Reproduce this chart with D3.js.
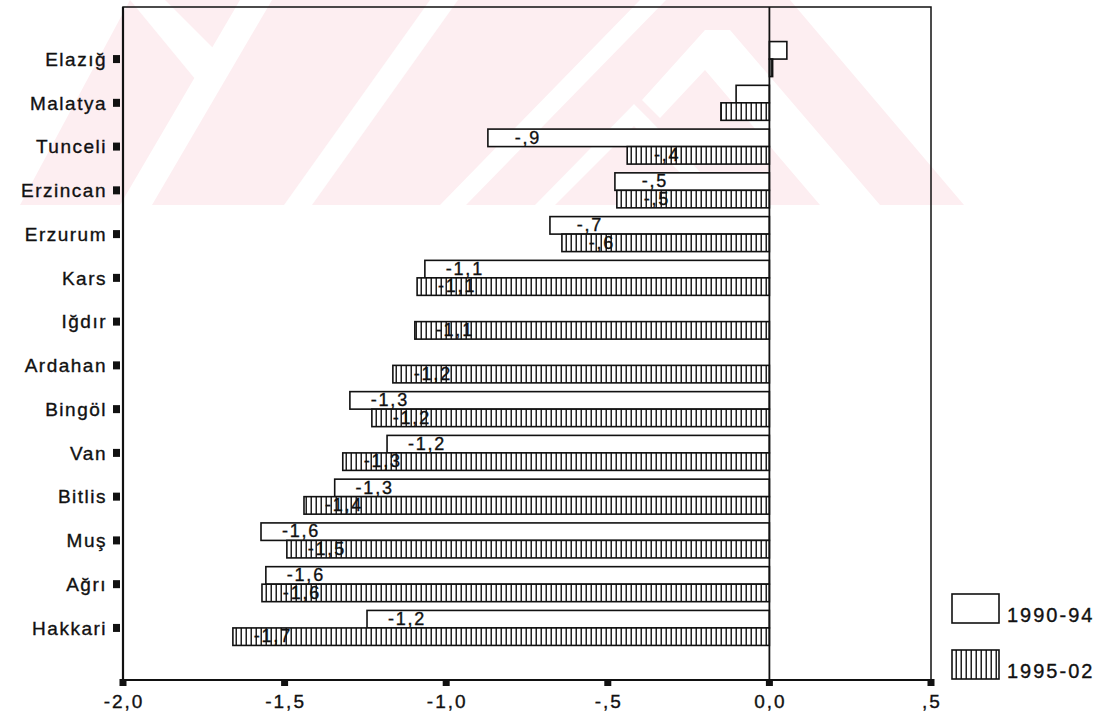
<!DOCTYPE html>
<html><head><meta charset="utf-8">
<script src="https://cdn.jsdelivr.net/npm/d3@7"></script>
<style>body{margin:0;background:#fff} text{font-family:"Liberation Sans",Arial,sans-serif;fill:#111;stroke:#111;stroke-width:0.35}</style>
</head><body><svg id="c" width="1112" height="715"></svg>
<script>
const categories = ["Elazığ","Malatya","Tunceli","Erzincan","Erzurum","Kars","Iğdır","Ardahan","Bingöl","Van","Bitlis","Muş","Ağrı","Hakkari"];
const seriesNames = ["1990-94","1995-02"];
const values9094 = [0.054,-0.103,-0.871,-0.478,-0.679,-1.066,null,null,-1.298,-1.183,-1.345,-1.573,-1.558,-1.245];
const values9502 = [0.01,-0.15,-0.44,-0.472,-0.642,-1.09,-1.097,-1.165,-1.23,-1.32,-1.44,-1.493,-1.57,-1.66];
const xTicks = [-2,-1.5,-1,-0.5,0,0.5];
const xTickLabels = ["-2,0","-1,5","-1,0","-,5","0,0",",5"];

const svg = d3.select("#c");
const defs = svg.append("defs");
const pat = defs.append("pattern").attr("id","hatch").attr("patternUnits","userSpaceOnUse")
  .attr("width",5).attr("height",10);
pat.append("rect").attr("width",5).attr("height",10).attr("fill","#fff");
pat.append("rect").attr("x",0.5).attr("width",1.5).attr("height",10).attr("fill","#222");

// faint background watermark (decoration)
const wm = svg.append("g");
const pink = "#fdeef1";
wm.append("path").attr("fill",pink).attr("d","M20,205 L130,0 L790,0 L964,205 Z");
const white = [
  "M130,0 L165,0 L225,60 L200,85 Z",
  "M240,0 L272,0 L152,205 L120,205 Z",
  "M430,0 L458,0 L312,205 L284,205 Z",
  "M640,0 L666,0 L466,205 L440,205 Z",
  "M705,30 L730,30 L880,205 L820,205 L705,70 L660,118 L642,100 Z",
  "M634,104 L648,118 L732,205 L712,205 L634,126 L555,205 L535,205 Z"
];
white.forEach(d => wm.append("path").attr("fill","#fff").attr("d",d));

const x = d3.scaleLinear().domain([-2,0.5]).range([123,931]);
const y = d3.scaleBand().domain(categories).range([7,680]).paddingInner(0).paddingOuter(0.69);
const pairH = 35;
const sub = d3.scaleBand().domain(seriesNames).range([0,pairH]);
const off = (y.bandwidth()-pairH)/2;

const fmt = v => {
  const s = Math.abs(v).toFixed(1).replace(".", ",").replace(/^0,/, ",");
  return (v < 0 ? "-" : "") + s;
};

const series = [
  {name: seriesNames[0], values: values9094, fill: "#fff"},
  {name: seriesNames[1], values: values9502, fill: "url(#hatch)"}
];

// frame
svg.append("rect").attr("x",x(-2)).attr("y",7).attr("width",x(0.5)-x(-2)).attr("height",673)
  .attr("fill","none").attr("stroke","#111").attr("stroke-width",1.5);
svg.append("line").attr("x1",x(-2)).attr("x2",x(-2)).attr("y1",7).attr("y2",681)
  .attr("stroke","#111").attr("stroke-width",2.2);
svg.append("line").attr("x1",x(-2)).attr("x2",x(0.5)).attr("y1",680).attr("y2",680)
  .attr("stroke","#111").attr("stroke-width",2);

const gBars = svg.append("g");
series.forEach(s => {
  s.values.forEach((v,i) => {
    if (v === null) return;
    const yy = y(categories[i]) + off + sub(s.name);
    gBars.append("rect")
      .attr("x", x(Math.min(0,v))).attr("width", Math.abs(x(v)-x(0)))
      .attr("y", yy).attr("height", sub.bandwidth())
      .attr("fill", s.fill).attr("stroke","#111").attr("stroke-width",1.6);
  });
});
series.forEach(s => {
  s.values.forEach((v,i) => {
    if (v === null || Math.abs(v) < 0.3) return;
    const yy = y(categories[i]) + off + sub(s.name);
    gBars.append("text").attr("x", x(v)+40).attr("y", yy+sub.bandwidth()-3)
      .attr("text-anchor","middle").attr("font-size",18).attr("letter-spacing",1.8)
      .text(fmt(v));
  });
});

// zero line
svg.append("line").attr("x1",x(0)).attr("x2",x(0)).attr("y1",7).attr("y2",680)
  .attr("stroke","#111").attr("stroke-width",1.8);

// y ticks & labels
const gy = svg.append("g");
categories.forEach(c => {
  const cy = y(c) + y.bandwidth()/2;
  gy.append("rect").attr("x",113).attr("y",cy-4).attr("width",7).attr("height",8).attr("fill","#111");
  gy.append("text").attr("x",107).attr("y",cy).attr("dy","0.36em").attr("text-anchor","end")
    .attr("font-size",19).attr("letter-spacing",1.5).text(c);
});

// x ticks & labels
const gx = svg.append("g");
xTicks.forEach((t,i) => {
  gx.append("rect").attr("x",x(t)-3.5).attr("y",679).attr("width",7).attr("height",7).attr("fill","#111");
  gx.append("text").attr("x",x(t)+1).attr("y",708).attr("text-anchor","middle")
    .attr("font-size",19).attr("letter-spacing",2).text(xTickLabels[i]);
});

// legend
const lg = svg.append("g");
series.forEach((s,i) => {
  const ly = 594 + i*56;
  lg.append("rect").attr("x",952).attr("y",ly).attr("width",47).attr("height",29)
    .attr("fill",s.fill).attr("stroke","#111").attr("stroke-width",1.6);
  lg.append("text").attr("x",1007).attr("y",ly+28).attr("font-size",20).attr("letter-spacing",2).text(s.name);
});
</script></body></html>
